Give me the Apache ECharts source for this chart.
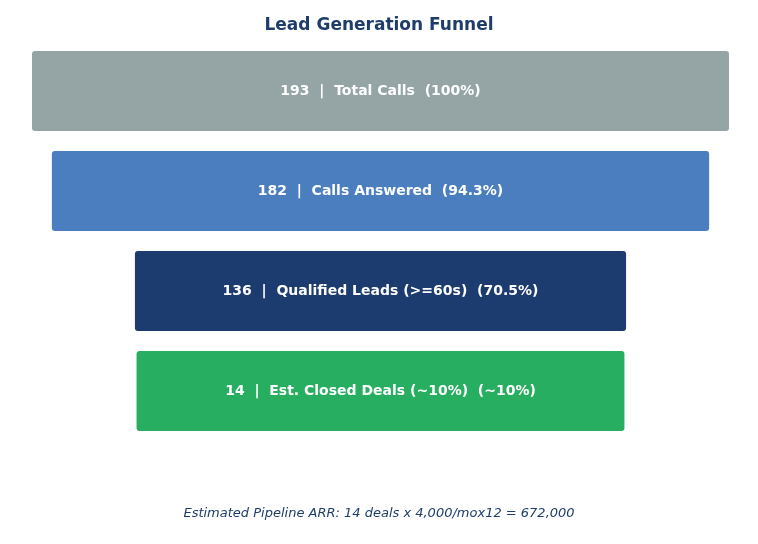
<!DOCTYPE html>
<html>
<head>
<meta charset="utf-8">
<script src="https://cdn.jsdelivr.net/npm/echarts@6/dist/echarts.min.js"></script>
<style>
  html, body { margin: 0; padding: 0; background: #fff; }
  #chart { width: 758px; height: 544px; }
</style>
</head>
<body>
<div id="chart"></div>
<script>
'use strict';

// funnel stages, top to bottom
var stages = ['Total Calls', 'Calls Answered', 'Qualified Leads (>=60s)', 'Est. Closed Deals (~10%)'];
var counts = [193, 182, 136, 14];
var pctLabels = ['100%', '94.3%', '70.5%', '~10%'];
var colors = ['#95a5a6', '#4a7ebf', '#1c3b6e', '#27ae60'];
var minShare = 0.7; // small stages are drawn at least this share of the top one

var maxCount = Math.max.apply(null, counts);
var shown = counts.map(function (c) {
    return Math.max(c, maxCount * minShare);
});
var pad = shown.map(function (w) {
    return (maxCount - w) / 2;
});

var myChart = echarts.init(document.getElementById('chart'));

myChart.setOption({
    animation: false,
    title: {
        text: 'Lead Generation Funnel',
        left: 'center',
        top: 12,
        textStyle: { color: '#1f3d6b', fontSize: 17, fontWeight: 'bold', fontFamily: 'DejaVu Sans' }
    },
    grid: { left: 32, right: 29, top: 41, bottom: 103 },
    xAxis: { type: 'value', min: 0, max: maxCount, show: false },
    yAxis: {
        type: 'category',
        inverse: true,
        data: stages,
        show: false
    },
    series: [{
        type: 'bar',
        stack: 'f',
        barWidth: 80,
        itemStyle: { color: 'transparent' },
        data: pad,
        silent: true
    }, {
        type: 'bar',
        stack: 'f',
        barWidth: 80,
        data: shown.map(function (w, i) {
            return { value: w, itemStyle: { color: colors[i], borderRadius: 3 } };
        }),
        label: {
            show: true,
            position: 'inside',
            color: '#fff',
            fontWeight: 'bold',
            fontSize: 14,
            fontFamily: 'DejaVu Sans',
            formatter: function (p) {
                var i = p.dataIndex;
                return counts[i] + '  |  ' + stages[i] + '  (' + pctLabels[i] + ')';
            }
        }
    }],
    graphic: [{
        type: 'text',
        left: 'center',
        top: 507,
        style: {
            text: 'Estimated Pipeline ARR: 14 deals x 4,000/mox12 = 672,000',
            fill: '#1f3d6b',
            font: 'italic 13px DejaVu Sans'
        }
    }]
});
</script>
</body>
</html>
